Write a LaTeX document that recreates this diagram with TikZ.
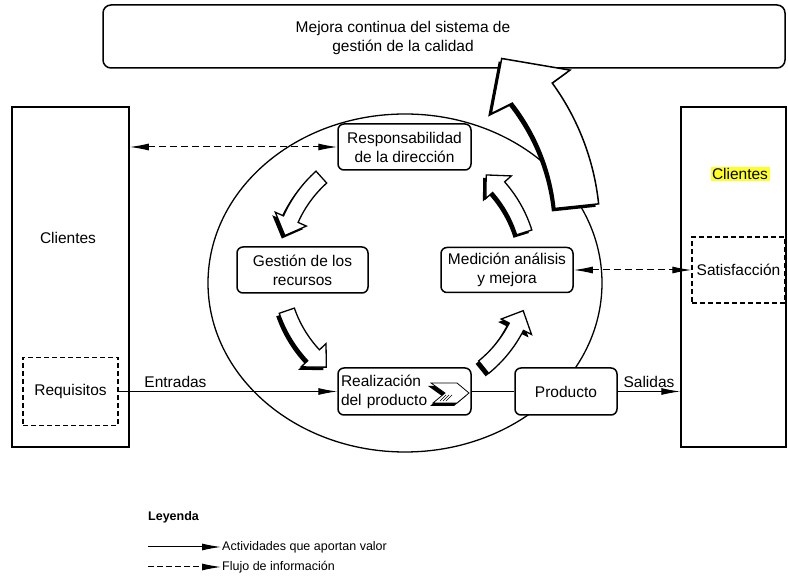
\documentclass[tikz,border=0pt]{standalone}
\usepackage{fontspec}
\setmainfont{Liberation Sans}
\usetikzlibrary{arrows.meta,shadows}
\definecolor{resalte}{RGB}{255,255,40}

\begin{document}
\begin{tikzpicture}[x=1pt, y=1pt, font=\fontsize{15.5}{19}\selectfont,
	caja/.style={draw, line width=1.5pt, rounded corners=6pt, fill=white, align=center, inner sep=0pt},
	cajad/.style={draw, line width=1.3pt, dash pattern=on 5pt off 3pt, fill=white, inner sep=0pt},
	flujo/.style={line width=1pt, -{Latex[length=19pt,width=7pt]}},
	info/.style={line width=1pt, dash pattern=on 7pt off 4pt, {Latex[length=19pt,width=7pt]}-{Latex[length=19pt,width=7pt]}},
	bloque/.style={draw, line width=1.3pt, fill=white, drop shadow={shadow xshift=-3pt, shadow yshift=-3pt, fill=black, opacity=1}}]
	\useasboundingbox (0,0) rectangle (788,578);

	%clientes
	\node[caja, sharp corners, minimum width=117pt, minimum height=340pt] (cliL) at (70.5,301) {};
	\node (cliLtxt) at (68,340) {Clientes};
	\node[cajad, minimum width=95pt, minimum height=68pt] (req) at (70.5,186.5) {Requisitos};
	\node[caja, sharp corners, minimum width=105pt, minimum height=340pt] (cliR) at (733.5,301) {};
	\node[fill=resalte, inner sep=1.5pt] (cliRtxt) at (740,404) {Clientes};
	\node[cajad, minimum width=93pt, minimum height=66pt] (sat) at (738.5,308) {Satisfacción};

	%circulo
	\draw[line width=1.3pt] (405,295) ellipse [x radius=197, y radius=169];

	\node[caja, minimum width=133pt, minimum height=46pt] (resp) at (404.5,431) {Responsabilidad\\de la dirección};
	\node[caja, minimum width=131pt, minimum height=46pt] (gest) at (302.5,308) {Gestión de los\\recursos};
	\node[caja, minimum width=132pt, minimum height=45pt] (med) at (507,308) {Medición análisis\\y mejora};
	\node[caja, minimum width=133pt, minimum height=47pt, align=left, text width=127pt] (real) at (404.5,186.5) {Realización\\del producto};
	\node[caja, minimum width=102pt, minimum height=47pt] (prod) at (566,186.5) {Producto};

	%mejora continua
	\node[caja, rounded corners=8pt, minimum width=682pt, minimum height=63pt] (mejora) at (444,541.5) {};
	\node[align=center] (mejoratxt) at (403,540.5) {Mejora continua del sistema de\\gestión de la calidad};

	%flujos
	\draw[flujo] (req.east) -- node[above, pos=0.26] (entr) {Entradas} (real.west);
	\draw[line width=1pt] (real.east) -- (prod.west);
	\draw[flujo] (prod.east) -- node[above] (sal) {Salidas} (prod.east -| cliR.west);
	\draw[info] (resp.west -| cliL.east) -- (resp.west);
	\draw[info] (med.east) -- (sat.west);

	%flechas del ciclo
	\begin{scope}[shift={(405,308)}]
	\foreach \m [evaluate=\m as \a using \m-16, evaluate=\m as \b using \m+8, evaluate=\m as \c using \m+16] in {148,215,325,33.5}{
		\draw[bloque] (\a:117) arc[start angle=\a, end angle=\b, radius=117] -- (\b:108) -- (\c:125) -- (\b:142) -- (\b:133) arc[start angle=\b, end angle=\a, radius=133] -- cycle;
	}
	\end{scope}
	\begin{scope}[shift={(350,348)}]
	\draw[bloque, line width=1.5pt] (6:206) arc[start angle=6, end angle=38, radius=206] -- (39.5:183) -- (48.5:229) -- (36:272) -- (36:250) arc[start angle=36, end angle=6, radius=250] -- cycle;
	\end{scope}

	%chevron
	\draw[bloque, line width=0.8pt] (431,195) -- (457,195) -- (469,185) -- (457,175) -- (433,175) -- (445,185) -- cycle;
	\foreach \i in {0,3,6}{
		\draw[line width=0.7pt] (440+\i,177) -- (446+\i,183);
	}

	%leyenda
	\node[font=\fontsize{12.5}{15}\selectfont\bfseries, anchor=west, inner sep=1pt] (ley) at (147,61) {Leyenda};
	\coordinate (l1) at (148,31);
	\coordinate (l2) at (148,11);
	\node[font=\fontsize{12.5}{15}\selectfont, anchor=west, inner sep=1pt] (act) at (221,31) {Actividades que aportan valor};
	\node[font=\fontsize{12.5}{15}\selectfont, anchor=west, inner sep=1pt] (flu) at (221,11) {Flujo de información};
	\draw[flujo] (l1) -- (act.west);
	\draw[flujo, dash pattern=on 6pt off 3pt] (l2) -- (flu.west);
\end{tikzpicture}
\end{document}
